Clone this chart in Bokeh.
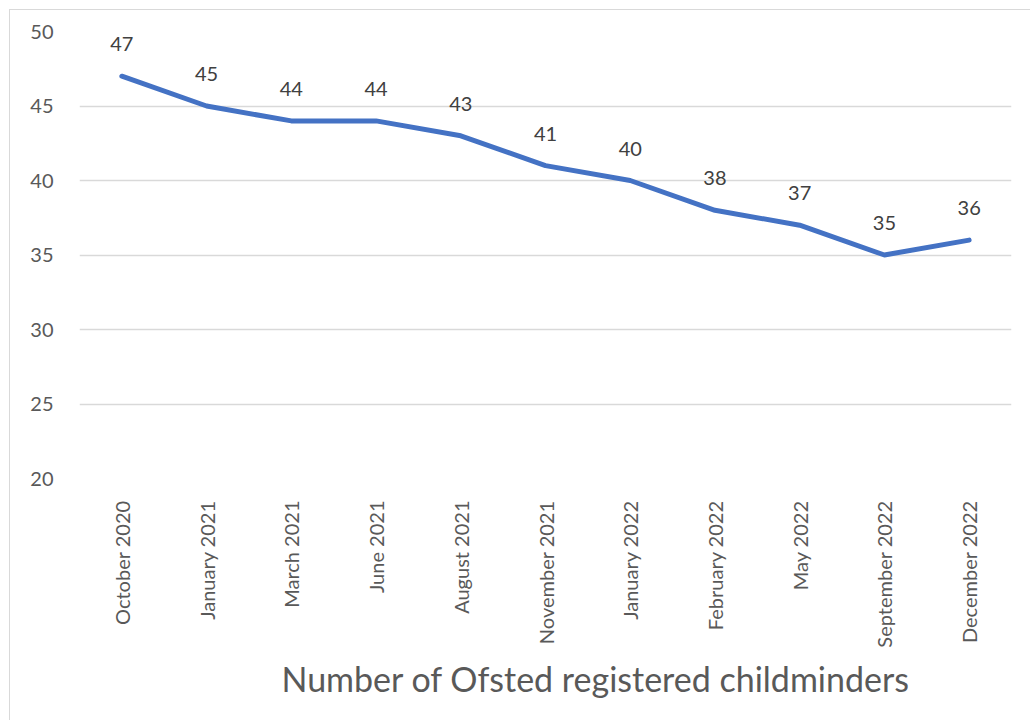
import math
from bokeh.plotting import figure
from bokeh.models import ColumnDataSource, LabelSet, Title, Range1d, FactorRange
from bokeh.core.properties import value
from bokeh.embed import file_html
from bokeh.resources import INLINE

# Ofsted registered childminders, by survey month
months = [
    "October 2020", "January 2021", "March 2021", "June 2021", "August 2021",
    "November 2021", "January 2022", "February 2022", "May 2022",
    "September 2022", "December 2022",
]
counts = [47, 45, 44, 44, 43, 41, 40, 38, 37, 35, 36]

y_ticks = [20, 25, 30, 35, 40, 45, 50]
chart_title = "Number of  Ofsted registered childminders"

FONT = "Lato"
TEXT = "#595959"
LINE = "#4472C4"
GRID = "#d9d9d9"

src = ColumnDataSource(data=dict(month=months, count=counts, label=[str(c) for c in counts]))

p = figure(
    width=1021, height=711,
    x_range=FactorRange(*months, range_padding=0),
    y_range=Range1d(20, 50),
    output_backend="svg", toolbar_location=None,
    min_border_left=69, min_border_right=20, min_border_top=21, min_border_bottom=243,
    margin=(9, 0, 0, 9),
)
p.styles = {"border-top": "1.5px solid #d9d9d9", "border-left": "1.5px solid #d9d9d9"}
p.outline_line_color = None
p.background_fill_color = "white"
p.border_fill_color = "white"

p.line("month", "count", source=src, line_color=LINE, line_width=5, line_join="round", line_cap="round")

labels = LabelSet(x="month", y="count", text="label", source=src,
                  y_offset=32, text_align="center", text_baseline="middle",
                  text_font=value(FONT), text_font_size="20px", text_color="#404040")
p.add_layout(labels)

p.yaxis.ticker = y_ticks
p.yaxis.axis_line_color = None
p.yaxis.major_tick_line_color = None
p.yaxis.minor_tick_line_color = None
p.yaxis.major_label_standoff = 20
p.yaxis.major_label_text_font = FONT
p.yaxis.major_label_text_font_size = "20px"
p.yaxis.major_label_text_color = TEXT

p.xaxis.axis_line_color = None
p.xaxis.major_tick_line_color = None
p.xaxis.major_label_orientation = math.pi / 2
p.xaxis.major_label_standoff = 16
p.xaxis.major_label_text_font = FONT
p.xaxis.major_label_text_font_size = "20px"
p.xaxis.major_label_text_color = TEXT

p.xgrid.grid_line_color = None
p.ygrid.grid_line_color = GRID
p.ygrid.grid_line_width = 1.5

# series name under the rotated month labels
p.add_layout(Title(text=chart_title, align="left", offset=202, standoff=11,
                   text_font=FONT, text_font_size="34px", text_font_style="normal",
                   text_color=TEXT), "below")

open("out.html", "w").write(file_html(p, INLINE))
